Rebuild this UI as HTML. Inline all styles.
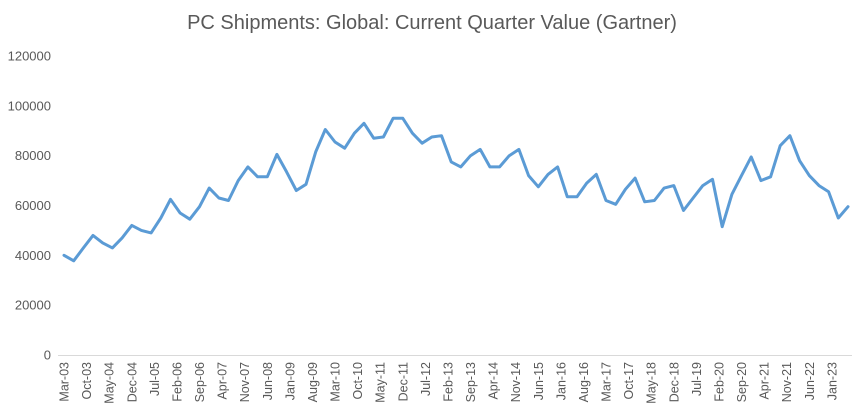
<!DOCTYPE html>
<html><head><meta charset="utf-8"><style>
html,body{margin:0;padding:0;background:#fff;}
svg{display:block;font-family:"Liberation Sans",sans-serif;}
</style></head><body>
<svg id="chart" width="865" height="418" viewBox="0 0 865 418">
<text x="432" y="29" text-anchor="middle" font-size="20" fill="#595959">PC Shipments: Global: Current Quarter Value (Gartner)</text>
<g id="yaxis"></g>
<g id="xaxis"></g>
<line x1="58" y1="355.5" x2="852" y2="355.5" stroke="#d9d9d9" stroke-width="1"/>
<g id="plot"></g>
</svg>
<script>
const values = [40000,37800,43000,48000,45000,43000,47000,52000,50000,49000,55000,62500,57000,54500,59500,67000,63000,62000,70000,75500,71500,71500,80500,73500,66000,68500,81500,90500,85500,83000,89000,93000,87000,87500,95000,95000,89000,85000,87500,88000,77500,75500,80000,82500,75500,75500,80000,82500,72000,67500,72500,75500,63500,63500,69000,72500,62000,60500,66500,71000,61500,62000,67000,68000,58000,63000,68000,70500,51500,64500,72000,79500,70000,71500,84000,88000,78000,72000,68000,65500,55000,59500];
const yTicks = [0,20000,40000,60000,80000,100000,120000];
const xLabels = ["Mar-03","Oct-03","May-04","Dec-04","Jul-05","Feb-06","Sep-06","Apr-07","Nov-07","Jun-08","Jan-09","Aug-09","Mar-10","Oct-10","May-11","Dec-11","Jul-12","Feb-13","Sep-13","Apr-14","Nov-14","Jun-15","Jan-16","Aug-16","Mar-17","Oct-17","May-18","Dec-18","Jul-19","Feb-20","Sep-20","Apr-21","Nov-21","Jun-22","Jan-23"];
const NS="http://www.w3.org/2000/svg";
const x0=64,x1=848,yBase=355,yTop=56,yMax=120000;
const step=(x1-x0)/(values.length-1);
function xq(i){return x0+i*step;}
function yv(v){return yBase-(v/yMax)*(yBase-yTop);}
const months=["Jan","Feb","Mar","Apr","May","Jun","Jul","Aug","Sep","Oct","Nov","Dec"];
function labelX(s){const m=months.indexOf(s.slice(0,3));const y=2000+parseInt(s.slice(4));const off=(y-2003)*12+(m-2);return x0+off/3*step;}
const ya=document.getElementById('yaxis');
yTicks.forEach(t=>{const e=document.createElementNS(NS,'text');


e.setAttribute('x',51);e.setAttribute('y',yv(t)+4.5);e.setAttribute('text-anchor','end');e.setAttribute('font-size','13');e.setAttribute('fill','#595959');e.textContent=t;ya.appendChild(e);});
const xa=document.getElementById('xaxis');
xLabels.forEach(l=>{const x=labelX(l);const e=document.createElementNS(NS,'text');


e.setAttribute('transform','translate('+(x+4.5)+',362) rotate(-90)');e.setAttribute('text-anchor','end');e.setAttribute('font-size','12.5');e.setAttribute('fill','#595959');e.textContent=l;xa.appendChild(e);});
const p=document.createElementNS(NS,'polyline');


p.setAttribute('points',values.map((v,i)=>xq(i).toFixed(1)+','+yv(v).toFixed(1)).join(' '));
p.setAttribute('fill','none');p.setAttribute('stroke','#5b9bd5');p.setAttribute('stroke-width','3');p.setAttribute('stroke-linejoin','round');p.setAttribute('stroke-linecap','round');
document.getElementById('plot').appendChild(p);
</script>
</body></html>
